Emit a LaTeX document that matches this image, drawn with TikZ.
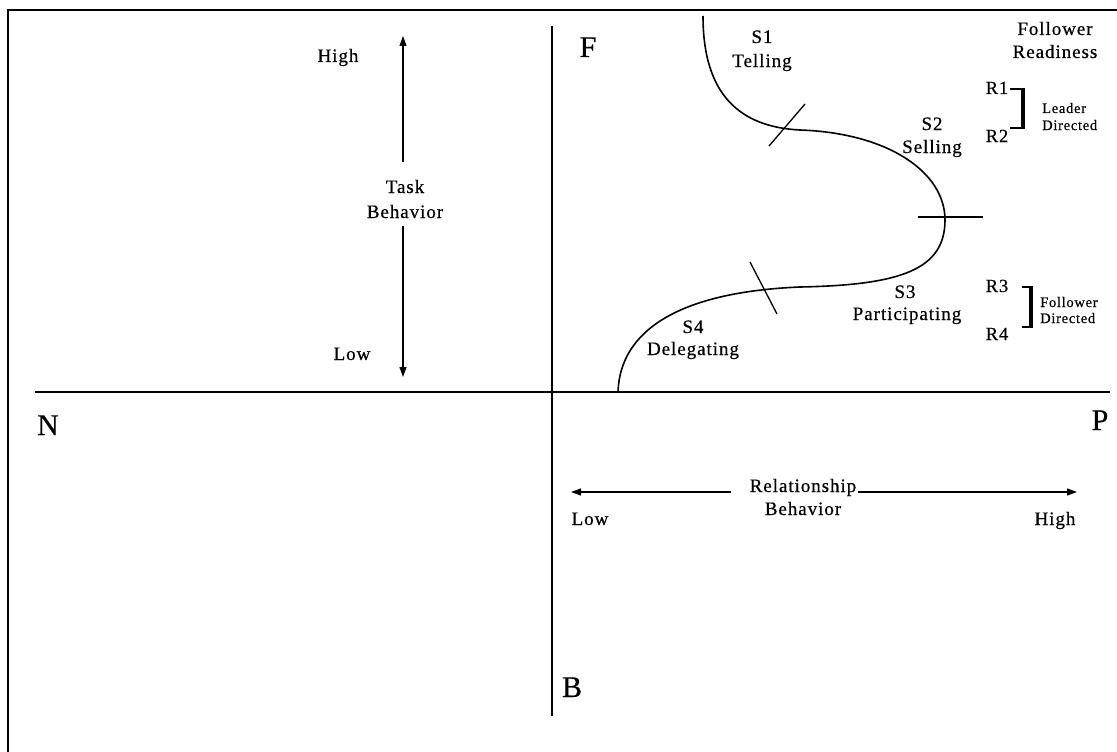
\documentclass[tikz,border=0pt]{standalone}
\usepackage{fontspec}
\setmainfont{Liberation Serif}[LetterSpace=5,FakeBold=0.5]
\usetikzlibrary{arrows.meta}
\begin{document}
\begin{tikzpicture}[x=1pt,y=-1pt,
  lbl/.style={font=\fontsize{19}{23}\selectfont, anchor=base, inner sep=2pt},
  big/.style={font=\fontsize{30}{34}\selectfont, anchor=base, inner sep=0pt},
  rlbl/.style={font=\fontsize{18.5}{20}\selectfont, anchor=base, inner sep=1pt},
  small/.style={font=\fontsize{14.5}{16}\selectfont, anchor=base west, inner sep=0pt},
  axis/.style={line width=1.4pt},
  frame/.style={line width=2.4pt},
  arr/.style={line width=1.1pt, -{Triangle[length=10pt,width=7pt]}},
  curve/.style={line width=1.6pt},
  tickln/.style={line width=1.3pt},
  brk/.style={line width=1.2pt},
  brkbar/.style={line width=3.2pt},
]
\useasboundingbox (0,0) rectangle (1117,752);
% frame
\draw[frame] (8,752) -- (8,10) -- (1117,10);
% axes
\coordinate (axL) at (35,392);
\coordinate (axR) at (1110,392);
\coordinate (axT) at (552,26);
\coordinate (axB) at (552,716);
\draw[axis] (axL) -- (axR);
\draw[axis] (axT) -- (axB);
% quadrant letters
\node[big] (F) at (588,57) {F};
\node[big] (N) at (48,435) {N};
\node[big] (P) at (1100,430) {P};
\node[big] (B) at (572,697) {B};
% task behavior axis
\node[lbl] (high1) at (338,62) {High};
\node[lbl] (task) at (405,193) {Task};
\node[lbl] (behav1) at (405,218) {Behavior};
\node[lbl] (low1) at (352,360) {Low};
\coordinate (tbTop) at (403,36);
\coordinate (tbBot) at (403,377);
\draw[arr] ([xshift=-2pt,yshift=16pt]task.north) -- (tbTop);
\draw[arr] ([xshift=-2pt,yshift=-6pt]behav1.south) -- (tbBot);
% relationship behavior axis
\node[lbl] (rel) at (803,492) {Relationship};
\node[lbl] (behav2) at (803,515) {Behavior};
\node[lbl] (low2) at (590,525) {Low};
\node[lbl] (high2) at (1055,525) {High};
\coordinate (rbL) at (571,492);
\coordinate (rbR) at (1077,492);
\draw[arr] ([xshift=-17pt]rel.base west) -- (rbL);
\draw[arr] (rel.base east) -- (rbR);
% curve
\draw[curve] (703,16) .. controls (703,95) and (740,127) .. (800,130)
  .. controls (888,133) and (945,172) .. (945,220)
  .. controls (945,270) and (900,285) .. (800,287)
  .. controls (680,292) and (620,330) .. (618,392);
\draw[tickln] (769,146) -- (805,104);
\draw[tickln] (750,262) -- (777,314);
\draw[tickln] (918,217) -- (983,217);
% style labels
\node[lbl] (s1) at (762,43) {S1};
\node[lbl] (s1t) at (762,67) {Telling};
\node[lbl] (s2) at (932,130) {S2};
\node[lbl] (s2t) at (932,153) {Selling};
\node[lbl] (s3) at (905,298) {S3};
\node[lbl] (s3t) at (907,320) {Participating};
\node[lbl] (s4) at (693,333) {S4};
\node[lbl] (s4t) at (693,355) {Delegating};
% follower readiness
\node[lbl] (fr1) at (1055,35) {Follower};
\node[lbl] (fr2) at (1055,58) {Readiness};
\node[rlbl] (r1) at (997,94) {R1};
\node[rlbl] (r2) at (997,142) {R2};
\node[rlbl] (r3) at (997,292) {R3};
\node[rlbl] (r4) at (997,340) {R4};
\draw[brk] (1010,89) -- (1024,89);
\draw[brk] (1010,128) -- (1024,128);
\draw[brkbar] (1023,88.4) -- (1023,128.6);
\draw[brk] (1022,287) -- (1032,287);
\draw[brk] (1022,327) -- (1032,327);
\draw[brkbar] (1031,286.4) -- (1031,327.6);
\node[small] (ld1) at (1042,113) {Leader};
\node[small] (ld2) at (1042,130) {Directed};
\node[small] (fd1) at (1040,307) {Follower};
\node[small] (fd2) at (1040,323) {Directed};
\end{tikzpicture}
\end{document}
